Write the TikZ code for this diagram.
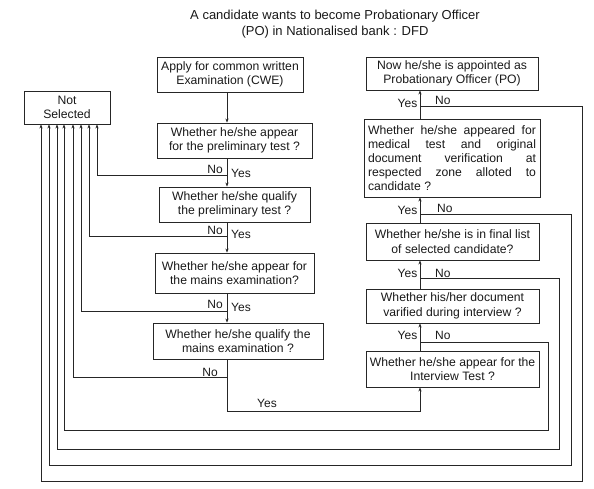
\documentclass[tikz,border=0pt]{standalone}
\usepackage{fontspec}
\setmainfont{Liberation Sans}
\usetikzlibrary{arrows.meta}
\begin{document}
\begin{tikzpicture}[x=1pt,y=-1pt,
  box/.style={draw=black!85, line width=0.9pt, align=center, inner sep=2pt,
    font=\fontsize{12.2}{14.5}\selectfont, text=black!90},
  lbl/.style={font=\fontsize{12}{14}\selectfont, inner sep=0pt, text=black!90},
  ln/.style={draw=black!85, line width=0.9pt},
  arr/.style={ln, -{Stealth[length=4pt,width=3.2pt]}},
]
\useasboundingbox (0,0) rectangle (594,488);

% title
\node[font=\fontsize{13}{16}\selectfont, align=center, text=black!90] (title) at (335,24)
  {A candidate wants to become Probationary Officer\\(PO) in Nationalised bank : DFD};

% left column
\node[box, minimum width=86pt, minimum height=33pt] (ns) at (67,107.5) {Not\\Selected};
\node[box, minimum width=146pt, minimum height=35pt] (a1) at (230,74.5) {Apply for common written\\Examination (CWE)};
\node[box, minimum width=155pt, minimum height=35pt] (a2) at (234.5,140.5) {Whether he/she appear\\for the preliminary test ?};
\node[box, minimum width=151pt, minimum height=35pt] (a3) at (234.5,204.5) {Whether he/she qualify\\the preliminary test ?};
\node[box, minimum width=159pt, minimum height=40pt] (a4) at (234.5,273) {Whether he/she appear for\\the mains examination?};
\node[box, minimum width=170pt, minimum height=36pt] (a5) at (238,341) {Whether he/she qualify the\\mains examination ?};

% right column
\node[box, minimum width=172pt, minimum height=33pt] (po) at (452,73.5) {Now he/she is appointed as\\Probationary Officer (PO)};
\node[box, text width=168pt, align=justify, minimum height=78pt, inner sep=4pt,
  font=\fontsize{12.2}{14}\selectfont] (med) at (452,158)
  {Whether he/she appeared for\linebreak medical test and original\linebreak document verification at\linebreak respected zone alloted to\linebreak candidate ?};
\node[box, minimum width=173pt, minimum height=37pt] (fin) at (452.5,241.5) {Whether he/she is in final list\\of selected candidate?};
\node[box, minimum width=173pt, minimum height=34pt] (doc) at (452.5,306) {Whether his/her document\\varified during interview ?};
\node[box, minimum width=173pt, minimum height=36pt] (int) at (452.5,369) {Whether he/she appear for the\\Interview Test ?};

\coordinate (lx) at (227,0);
\coordinate (rx) at (420,0);

% left main flow
\draw[arr] (a1.south -| lx) -- (a2.north -| lx);
\draw[arr] (a2.south -| lx) -- (a3.north -| lx);
\draw[arr] (a3.south -| lx) -- (a4.north -| lx);
\draw[arr] (a4.south -| lx) -- (a5.north -| lx);
\coordinate (y5) at (227,411);
\draw[arr] (a5.south -| lx) -- (y5) -- (y5 -| rx) -- (int.south -| rx);

% left "No" branches
\coordinate (b2) at (227,175); \coordinate (c2) at (97,175);
\draw[arr] (b2) -- (c2) -- (c2 |- ns.south);
\coordinate (b3) at (227,236); \coordinate (c3) at (89,236);
\draw[arr] (b3) -- (c3) -- (c3 |- ns.south);
\coordinate (b4) at (227,311); \coordinate (c4) at (81,311);
\draw[arr] (b4) -- (c4) -- (c4 |- ns.south);
\coordinate (b5) at (227,377); \coordinate (c5) at (73,377);
\draw[arr] (b5) -- (c5) -- (c5 |- ns.south);

% right main flow
\draw[arr] (int.north -| rx) -- (doc.south -| rx);
\draw[arr] (doc.north -| rx) -- (fin.south -| rx);
\draw[arr] (fin.north -| rx) -- (med.south -| rx);
\draw[arr] (med.north -| rx) -- (po.south -| rx);

% right "No" branches
\coordinate (r1) at (420,342); \coordinate (e1) at (548,342);
\coordinate (f1) at (548,430); \coordinate (g1) at (64,430);
\draw[arr] (r1) -- (e1) -- (f1) -- (g1) -- (g1 |- ns.south);
\coordinate (r2) at (420,278); \coordinate (e2) at (559,278);
\coordinate (f2) at (559,449); \coordinate (g2) at (57,449);
\draw[arr] (r2) -- (e2) -- (f2) -- (g2) -- (g2 |- ns.south);
\coordinate (r3) at (420,214); \coordinate (e3) at (571,214);
\coordinate (f3) at (571,465); \coordinate (g3) at (49,465);
\draw[arr] (r3) -- (e3) -- (f3) -- (g3) -- (g3 |- ns.south);
\coordinate (r4) at (420,106); \coordinate (e4) at (582,106);
\coordinate (f4) at (582,481); \coordinate (g4) at (41,481);
\draw[arr] (r4) -- (e4) -- (f4) -- (g4) -- (g4 |- ns.south);

% labels left
\node[lbl, anchor=base east] (n2) at (223,173.5) {No};
\node[lbl, anchor=base west] (y2) at (231,177.5) {Yes};
\node[lbl, anchor=base east] (n3) at (223,234) {No};
\node[lbl, anchor=base west] (y3) at (231,238.5) {Yes};
\node[lbl, anchor=base east] (n4) at (223,308) {No};
\node[lbl, anchor=base west] (y4) at (231,311.5) {Yes};
\node[lbl, anchor=base east] (n5) at (218,376) {No};
\node[lbl, anchor=base] (y5l) at (267,407.5) {Yes};

% labels right
\node[lbl, anchor=base east] (ry1) at (417.5,339.5) {Yes};
\node[lbl, anchor=base west] (rn1) at (435,339.5) {No};
\node[lbl, anchor=base east] (ry2) at (417.5,277.5) {Yes};
\node[lbl, anchor=base west] (rn2) at (435,277) {No};
\node[lbl, anchor=base east] (ry3) at (417.5,214.5) {Yes};
\node[lbl, anchor=base west] (rn3) at (437,212.5) {No};
\node[lbl, anchor=base east] (ry4) at (417.5,107.5) {Yes};
\node[lbl, anchor=base west] (rn4) at (435,104.5) {No};
\end{tikzpicture}
\end{document}
